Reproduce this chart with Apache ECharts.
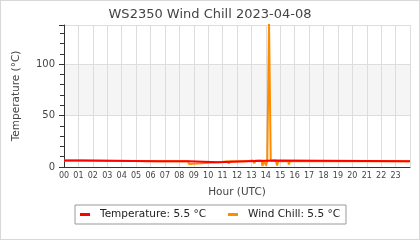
<!DOCTYPE html>
<html><head><meta charset="utf-8">
<script src="https://cdn.jsdelivr.net/npm/echarts@6/dist/echarts.min.js"></script>
<style>html,body{margin:0;padding:0;background:#fff}#c{width:420px;height:240px;box-sizing:border-box;border:1px solid #d8d8d8}</style>
</head><body><div id="c"></div>
<script>
const titleText = 'WS2350 Wind Chill 2023-04-08';
const seriesNames = ['Temperature: 5.5 °C', 'Wind Chill: 5.5 °C'];
// [hour, °C]
const temperature = [[0,6.2],[1.25,6.2],[1.25,5.6],[6.55,5.6],[6.55,5.1],[6.65,5.1],[6.65,5.6],[6.85,5.6],[6.85,5.1],[6.95,5.1],[6.95,5.6],[7.1,5.6],[7.1,5.1],[7.2,5.1],[7.2,5.6],[8.7,5.6],[8.7,4.6],[10.7,4.6],[10.7,5.6],[12.65,5.6],[12.65,6.3],[14.7,6.3],[14.7,5.5],[24,5.5]];
const windChill = [[0,6.2],[1.24,6.2],[1.25,5.6],[6.55,5.6],[6.56,5.1],[6.65,5.1],[6.66,5.6],[6.85,5.6],[6.86,5.1],[6.95,5.1],[6.96,5.6],[7.1,5.6],[7.11,5.1],[7.2,5.1],[7.21,5.6],[8.62,5.6],[8.67,2.8],[8.72,4.6],[10.69,4.6],[10.7,5.6],[11.38,5.6],[11.43,3.2],[11.48,5.6],[12.64,5.6],[12.65,6.3],[13.1,6.3],[13.2,3.5],[13.3,6.3],[13.7,6.3],[13.77,1.0],[13.85,6.3],[13.95,6.3],[14.02,1.5],[14.1,6.3],[14.18,6.3],[14.22,140],[14.3,140],[14.34,6.3],[14.69,6.3],[14.7,5.5],[14.72,5.5],[14.78,1.5],[14.86,5.5],[15.55,5.5],[15.6,2.5],[15.66,5.5],[24,5.5]];
const colors = ['#ff0000', '#ff8c00'];
const chart = echarts.init(document.getElementById('c'));
const font = 'DejaVu Sans';
chart.setOption({
  animation: false,
  title: {text: titleText, left: 'center', top: 2, textStyle: {fontFamily: font, fontSize: 13, fontWeight: 'normal', color: '#444'}},
  grid: {left: 63, right: 9, top: 24, bottom: 72},
  xAxis: {type: 'value', min: 0, max: 24, interval: 1,
    name: 'Hour (UTC)', nameLocation: 'middle', nameGap: 20,
    nameTextStyle: {fontFamily: font, fontSize: 10.5, color: '#444'},
    axisLine: {lineStyle: {color: '#333'}}, axisTick: {show: false},
    axisLabel: {fontFamily: font, fontSize: 8, color: '#444', margin: 5, showMaxLabel: false,
      formatter: v => String(v).padStart(2, '0')},
    splitLine: {show: true, lineStyle: {color: '#ddd'}}},
  yAxis: {type: 'value', min: 0, max: 138, interval: 50,
    name: 'Temperature (°C)', nameLocation: 'middle', nameGap: 42,
    nameTextStyle: {fontFamily: font, fontSize: 10.5, color: '#444'},
    axisLine: {show: true, lineStyle: {color: '#333'}},
    axisTick: {show: true, length: 5, lineStyle: {color: '#333'}},
    minorTick: {show: true, splitNumber: 5, length: 4, lineStyle: {color: '#333'}},
    axisLabel: {fontFamily: font, fontSize: 10, color: '#444', margin: 9, showMaxLabel: false},
    splitLine: {show: true, lineStyle: {color: '#ddd'}},
    splitArea: {show: true, areaStyle: {color: ['rgba(0,0,0,0)', '#f5f5f5', 'rgba(0,0,0,0)']}}},
  legend: {bottom: 15, left: 'center', orient: 'horizontal', icon: 'rect', itemWidth: 10, itemHeight: 3,
    itemGap: 22, padding: [4, 6, 4, 5], borderColor: '#999', borderWidth: 1, borderRadius: 0,
    textStyle: {fontFamily: font, fontSize: 10.5, color: '#222', padding: [0, 0, 0, 5]}, data: seriesNames},
  series: [
    {name: seriesNames[1], type: 'line', data: windChill, symbol: 'none', color: colors[1], lineStyle: {width: 2}, z: 2},
    {name: seriesNames[0], type: 'line', data: temperature, symbol: 'none', color: colors[0], lineStyle: {width: 2}, z: 3}
  ]
});
</script></body></html>
